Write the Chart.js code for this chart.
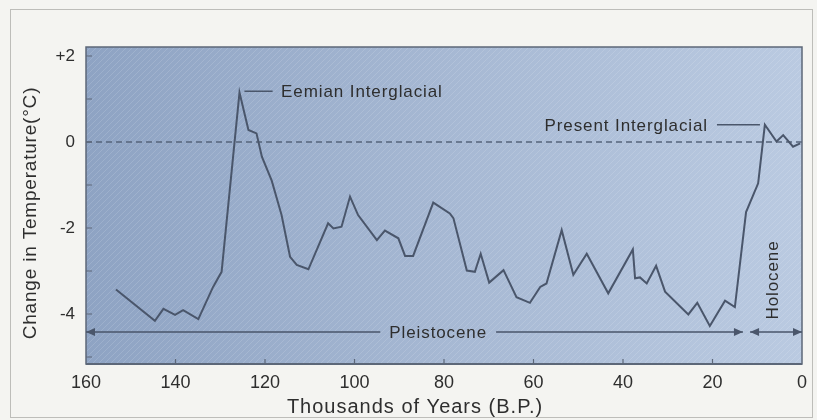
<!DOCTYPE html>
<html>
<head>
<meta charset="utf-8">
<title>Change in Temperature</title>
<script src="https://cdn.jsdelivr.net/npm/chart.js@4.4.1/dist/chart.umd.min.js"></script>
<style>
  html, body { margin: 0; padding: 0; background: #f4f4f1; }
  canvas { display: block; }
</style>
</head>
<body>
<canvas id="tempChart" width="817" height="420"></canvas>
<script>
// Values
// x: thousands of years before present, y: change in temperature (°C)
const yearsBP = [
  153.3, 144.6, 142.7, 140.1, 138.3, 134.9, 131.6, 129.7, 125.7, 123.7,
  121.9, 120.7, 118.5, 116.3, 114.4, 112.9, 110.3, 105.9, 104.7, 102.9,
  101.0, 99.2, 95.0, 93.2, 90.2, 88.7, 86.9, 82.4, 78.7, 77.9,
  74.9, 73.1, 71.8, 69.9, 66.7, 63.8, 60.8, 58.5, 57.1, 53.7,
  51.1, 48.1, 43.3, 37.8, 37.3, 36.2, 34.7, 32.6, 30.6, 25.4,
  23.4, 20.6, 17.2, 15.0, 12.5, 9.8, 8.3, 5.7, 4.2, 2.0, 0.4
];
const tempChange = [
  -3.43, -4.16, -3.88, -4.02, -3.91, -4.12, -3.37, -3.02, 1.15, 0.28,
  0.20, -0.34, -0.90, -1.70, -2.67, -2.86, -2.96, -1.89, -2.01, -1.97,
  -1.27, -1.70, -2.28, -2.06, -2.24, -2.65, -2.65, -1.41, -1.66, -1.77,
  -2.99, -3.02, -2.60, -3.27, -2.98, -3.61, -3.74, -3.37, -3.29, -2.05,
  -3.09, -2.60, -3.52, -2.50, -3.17, -3.15, -3.29, -2.88, -3.48, -4.01,
  -3.74, -4.28, -3.69, -3.84, -1.63, -0.96, 0.40, 0.01, 0.16, -0.11, -0.03
];
const xTickValues = [160, 140, 120, 100, 80, 60, 40, 20, 0];
const yTickValues = [2, 1, 0, -1, -2, -3, -4, -5];
const yLabelled = [2, 0, -2, -4];

const FONT = "'Liberation Sans', Arial, sans-serif";
const INK = '#2e2e2e';
const LINE = '#4a566b';

// diagonal hatch like the printed screen of the original
function makeHatch() {
  const c = document.createElement('canvas');
  c.width = 6; c.height = 6;
  const g = c.getContext('2d');
  g.strokeStyle = 'rgba(255,255,255,0.13)';
  g.lineWidth = 1;
  g.beginPath();
  g.moveTo(0, 6); g.lineTo(6, 0);
  g.moveTo(-1, 1); g.lineTo(1, -1);
  g.moveTo(5, 7); g.lineTo(7, 5);
  g.stroke();
  return c;
}

function arrowHead(ctx, x, y, dir) {
  ctx.beginPath();
  ctx.moveTo(x, y);
  ctx.lineTo(x - dir * 9, y - 4);
  ctx.lineTo(x - dir * 9, y + 4);
  ctx.closePath();
  ctx.fill();
}

const figureDecor = {
  id: 'figureDecor',
  beforeDraw(chart) {
    const { ctx, chartArea: a } = chart;
    ctx.save();
    ctx.fillStyle = '#f4f4f1';
    ctx.fillRect(0, 0, chart.width, chart.height);
    ctx.strokeStyle = '#bdbdb9';
    ctx.lineWidth = 1;
    ctx.strokeRect(10.5, 9.5, 802, 408);

    const grad = ctx.createLinearGradient(a.left, 0, a.right, 0);
    grad.addColorStop(0, '#8ea3c3');
    grad.addColorStop(0.5, '#a6b8d3');
    grad.addColorStop(1, '#bacae1');
    ctx.fillStyle = grad;
    ctx.fillRect(a.left, a.top, a.width, a.height);
    ctx.fillStyle = ctx.createPattern(makeHatch(), 'repeat');
    ctx.fillRect(a.left, a.top, a.width, a.height);
    ctx.restore();
  },
  beforeDatasetsDraw(chart) {
    const { ctx, chartArea: a, scales: { y } } = chart;
    // dashed zero line
    const y0 = y.getPixelForValue(0);
    ctx.save();
    ctx.strokeStyle = '#56647b';
    ctx.lineWidth = 1.5;
    ctx.setLineDash([6, 4]);
    ctx.beginPath();
    ctx.moveTo(a.left, y0);
    ctx.lineTo(a.right, y0);
    ctx.stroke();
    ctx.restore();
  },
  afterDraw(chart) {
    const { ctx, chartArea: a, scales: { x, y } } = chart;
    ctx.save();

    // frame of the plot
    ctx.strokeStyle = '#5c6778';
    ctx.lineWidth = 1.5;
    ctx.strokeRect(a.left, a.top, a.width, a.height);
    ctx.lineWidth = 2;
    ctx.beginPath();
    ctx.moveTo(a.left, a.bottom); ctx.lineTo(a.right, a.bottom);
    ctx.stroke();

    // inward tick marks
    ctx.lineWidth = 1.2;
    ctx.beginPath();
    yTickValues.forEach(v => {
      const py = y.getPixelForValue(v);
      ctx.moveTo(a.left, py); ctx.lineTo(a.left + 6, py);
    });
    xTickValues.forEach(v => {
      if (v === 160 || v === 0) return;
      const px = x.getPixelForValue(v);
      ctx.moveTo(px, a.bottom); ctx.lineTo(px, a.bottom - 5);
    });
    ctx.stroke();

    ctx.fillStyle = INK;
    ctx.strokeStyle = LINE;
    ctx.letterSpacing = '0.9px';
    ctx.font = '17px ' + FONT;
    ctx.textBaseline = 'middle';

    // Eemian Interglacial
    ctx.lineWidth = 1.5;
    ctx.beginPath();
    ctx.moveTo(x.getPixelForValue(124.6), y.getPixelForValue(1.18));
    ctx.lineTo(x.getPixelForValue(118.3), y.getPixelForValue(1.18));
    ctx.stroke();
    ctx.textAlign = 'left';
    ctx.fillText('Eemian Interglacial', x.getPixelForValue(116.4), y.getPixelForValue(1.16));

    // Present Interglacial
    ctx.beginPath();
    ctx.moveTo(x.getPixelForValue(19.0), y.getPixelForValue(0.40));
    ctx.lineTo(x.getPixelForValue(9.4), y.getPixelForValue(0.40));
    ctx.stroke();
    ctx.textAlign = 'right';
    ctx.fillText('Present Interglacial', x.getPixelForValue(21.0), y.getPixelForValue(0.37));

    // Pleistocene / Holocene spans
    const ySpan = y.getPixelForValue(-4.42);
    const pLeft = x.getPixelForValue(160), pRight = x.getPixelForValue(13.2);
    const hLeft = x.getPixelForValue(11.6), hRight = x.getPixelForValue(0);
    const pMid = x.getPixelForValue(81.3);
    ctx.textAlign = 'center';
    const half = ctx.measureText('Pleistocene').width / 2 + 9;
    ctx.fillStyle = LINE;
    ctx.beginPath();
    ctx.moveTo(pLeft, ySpan); ctx.lineTo(pMid - half, ySpan);
    ctx.moveTo(pMid + half, ySpan); ctx.lineTo(pRight, ySpan);
    ctx.moveTo(hLeft, ySpan); ctx.lineTo(hRight, ySpan);
    ctx.stroke();
    arrowHead(ctx, pLeft, ySpan, -1);
    arrowHead(ctx, pRight, ySpan, 1);
    arrowHead(ctx, hLeft, ySpan, -1);
    arrowHead(ctx, hRight, ySpan, 1);
    ctx.fillStyle = INK;
    ctx.fillText('Pleistocene', pMid, ySpan + 1);

    ctx.save();
    ctx.translate(x.getPixelForValue(6.5), y.getPixelForValue(-3.21));
    ctx.rotate(-Math.PI / 2);
    ctx.fillText('Holocene', 0, 0);
    ctx.restore();

    // axis titles
    ctx.font = '20px ' + FONT;
    ctx.letterSpacing = '1px';
    ctx.fillText('Thousands of Years (B.P.)', 415, 407);
    ctx.save();
    ctx.translate(31, 213);
    ctx.rotate(-Math.PI / 2);
    ctx.font = '19px ' + FONT;
    ctx.letterSpacing = '0.8px';
    ctx.fillText('Change in Temperature(°C)', 0, 0);
    ctx.restore();

    ctx.restore();
  }
};

const ctx = document.getElementById('tempChart').getContext('2d');
new Chart(ctx, {
  type: 'line',
  data: {
    datasets: [{
      data: yearsBP.map((t, i) => ({ x: t, y: tempChange[i] })),
      borderColor: LINE,
      borderWidth: 2,
      pointRadius: 0,
      tension: 0,
      fill: false
    }]
  },
  options: {
    responsive: false,
    animation: false,
    layout: { padding: { left: 0, right: 15, top: 47, bottom: 0 } },
    plugins: { legend: { display: false }, tooltip: { enabled: false } },
    scales: {
      x: {
        type: 'linear',
        reverse: true,
        min: 0,
        max: 160,
        afterBuildTicks: s => { s.ticks = xTickValues.map(v => ({ value: v })); },
        afterFit: s => { s.height = 56; },
        grid: { display: false, drawTicks: false },
        border: { display: false },
        ticks: {
          padding: 8,
          maxRotation: 0,
          autoSkip: false,
          color: INK,
          font: { family: FONT, size: 18 }
        }
      },
      y: {
        min: -5.163,
        max: 2.209,
        afterBuildTicks: s => { s.ticks = yTickValues.map(v => ({ value: v })); },
        afterFit: s => { s.width = 86; },
        grid: { display: false, drawTicks: false },
        border: { display: false },
        ticks: {
          padding: 11,
          autoSkip: false,
          color: INK,
          font: { family: FONT, size: 17 },
          callback: v => yLabelled.includes(v) ? (v > 0 ? '+' + v : String(v)) : ''
        }
      }
    }
  },
  plugins: [figureDecor]
});
</script>
</body>
</html>
